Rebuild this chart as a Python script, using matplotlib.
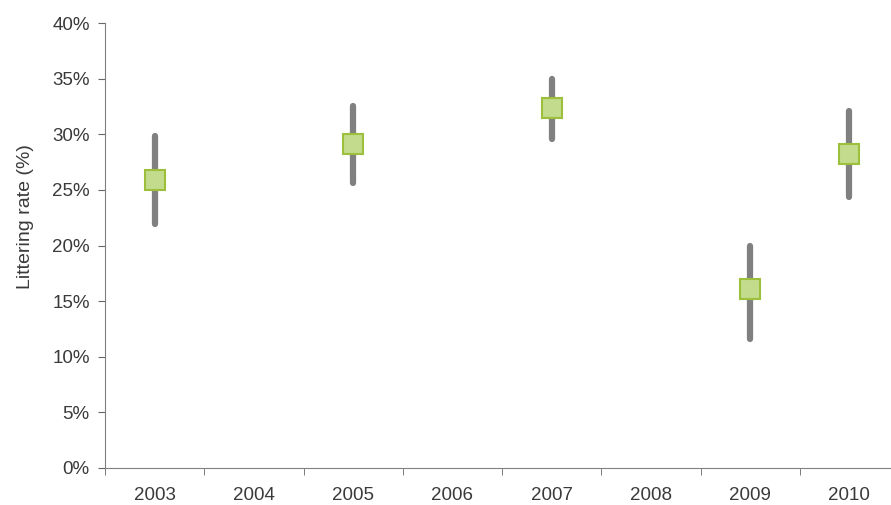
import numpy as np
import matplotlib.pyplot as plt
from matplotlib.ticker import FuncFormatter

plt.rcParams['font.family'] = ['Liberation Sans', 'DejaVu Sans']

years = ['2003', '2004', '2005', '2006', '2007', '2008', '2009', '2010']
rate = [25.9, np.nan, 29.1, np.nan, 32.4, np.nan, 16.1, 28.2]
upper = [29.8, np.nan, 32.5, np.nan, 35.0, np.nan, 20.0, 32.1]
lower = [21.9, np.nan, 25.6, np.nan, 29.6, np.nan, 11.6, 24.4]

rate = np.array(rate)
upper = np.array(upper)
lower = np.array(lower)
x = np.arange(len(years))

fig = plt.figure(figsize=(8.91, 5.05), dpi=100)
ax = fig.add_axes([105 / 891, 37 / 505, 794 / 891, 445 / 505])

ok = ~np.isnan(rate)
ax.vlines(x[ok], lower[ok], upper[ok], color='#808080', linewidth=4.5,
          capstyle='round', zorder=2)
ax.plot(x[ok], rate[ok], 's', markersize=14, markerfacecolor='#c3db8c',
        markeredgecolor='#9cbf3c', markeredgewidth=1.5, zorder=3)

ax.set_xlim(-0.5, len(years) - 0.5)
ax.set_ylim(0, 40)
ax.set_yticks(np.arange(0, 41, 5))
ax.yaxis.set_major_formatter(FuncFormatter(lambda v, p: '%d%%' % v))
ax.set_xticks(x)
ax.set_xticklabels(years)
ax.set_xticks(np.arange(-0.5, len(years), 1), minor=True)
ax.tick_params(axis='x', which='major', length=0, pad=14, labelsize=13.5, labelcolor='#3a3a3a')
ax.tick_params(axis='x', which='minor', length=5, color='#666666')
ax.tick_params(axis='y', length=5, color='#666666', labelsize=13.5, labelcolor='#3a3a3a', pad=6)

for s in ['top', 'right']:
    ax.spines[s].set_visible(False)
for s in ['left', 'bottom']:
    ax.spines[s].set_color('#808080')

ax.set_ylabel('Littering rate (%)', fontsize=14, color='#3a3a3a')
ax.yaxis.set_label_coords(-71 / 794, 0.566)

fig.savefig('out.png', dpi=100)
